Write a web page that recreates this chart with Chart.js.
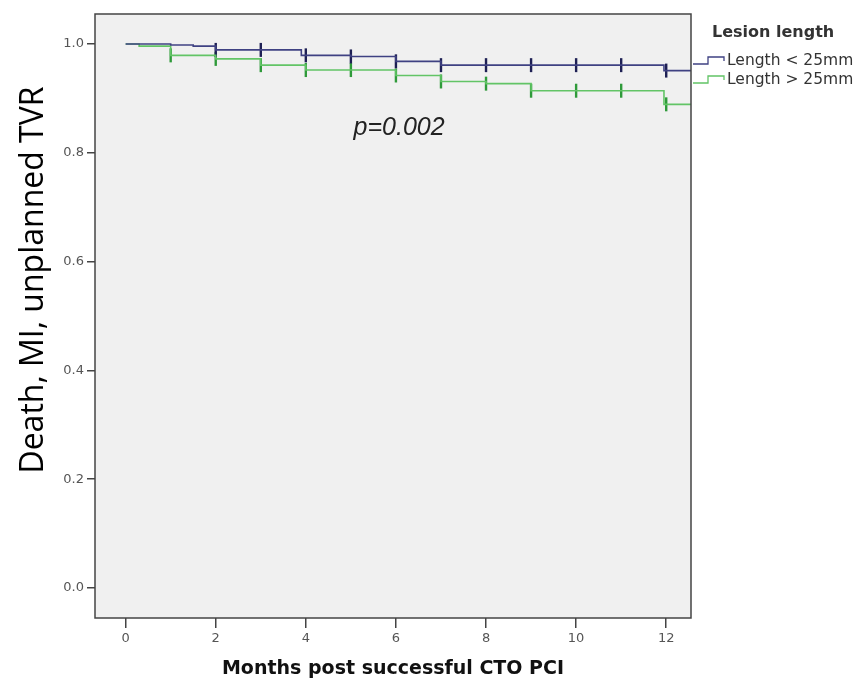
<!DOCTYPE html>
<html>
<head>
<meta charset="utf-8">
<script src="https://cdn.jsdelivr.net/npm/chart.js@4/dist/chart.umd.min.js"></script>
<style>
  html, body { margin: 0; padding: 0; background: #fff; }
  #wrap { width: 853px; height: 682px; }
</style>
</head>
<body>
<div id="wrap"><canvas id="kmChart" width="853" height="682"></canvas></div>
<script>
// tick labels
const xTicks = [0, 2, 4, 6, 8, 10, 12];
const yTicks = [0.0, 0.2, 0.4, 0.6, 0.8, 1.0];

// Length < 25mm : step times (months) and survival after each step
const shortTimes = [0, 1, 1.5, 2, 3.9, 5, 6, 7, 11.95, 12.6];
const shortSurv  = [1.0, 0.998, 0.996, 0.989, 0.979, 0.977, 0.968, 0.961, 0.951, 0.951];
const shortCensor = [2, 3, 4, 5, 6, 7, 8, 9, 10, 11, 12];

// Length > 25mm
const longTimes = [0, 0.3, 1, 2, 3, 4, 6, 7, 8, 9, 11.95, 12.6];
const longSurv  = [1.0, 0.996, 0.979, 0.9725, 0.961, 0.952, 0.942, 0.931, 0.927, 0.914, 0.889, 0.889];
const longCensor = [1, 2, 3, 4, 5, 6, 7, 8, 9, 10, 11, 12];

const legendTitle = 'Lesion length';
const groupNames = ['Length < 25mm', 'Length > 25mm'];
const pValue = 'p=0.002';

const blueLine = '#3f4182';
const blueMark = '#1e2054';
const greenLine = '#62c466';
const greenMark = '#2f9a3a';

function stepPoints(times, surv) {
    return times.map((t, i) => ({ x: t, y: surv[i] }));
}

// value of the step curve at time t
function survAt(times, surv, t) {
    let v = surv[0];
    for (let i = 0; i < times.length; i++) {
        if (times[i] <= t) v = surv[i];
    }
    return v;
}

function censorPoints(times, surv, marks) {
    return marks.map(t => ({ x: t, y: survAt(times, surv, t) }));
}

const frame = {
    id: 'frame',
    beforeDatasetsDraw(chart) {
        const { ctx, chartArea: a } = chart;
        ctx.save();
        ctx.fillStyle = '#f0f0f0';
        ctx.fillRect(a.left, a.top, a.right - a.left, a.bottom - a.top);
        ctx.restore();
    },
    afterDraw(chart) {
        const { ctx, chartArea: a, scales } = chart;
        ctx.save();
        ctx.strokeStyle = '#444';
        ctx.lineWidth = 1.5;
        ctx.strokeRect(a.left, a.top, a.right - a.left, a.bottom - a.top);

        // y title
        ctx.fillStyle = '#000';
        ctx.font = '32px "Open Sans"';
        ctx.textAlign = 'center';
        ctx.textBaseline = 'middle';
        ctx.translate(34, 280);
        ctx.rotate(-Math.PI / 2);
        ctx.fillText('Death, MI, unplanned TVR', 0, 0);
        ctx.setTransform(1, 0, 0, 1, 0, 0);

        // p value
        ctx.font = 'italic 25px "Liberation Sans"';
        ctx.fillStyle = '#222';
        ctx.textAlign = 'center';
        ctx.fillText(pValue, scales.x.getPixelForValue(6.07), scales.y.getPixelForValue(0.846));

        // legend
        const lx = a.right + 2;
        ctx.textAlign = 'left';
        ctx.fillStyle = '#333';
        ctx.font = 'bold 16px "DejaVu Sans"';
        ctx.fillText(legendTitle, 712, 33);
        ctx.font = '15.5px "DejaVu Sans"';
        const cols = [blueLine, greenLine];
        groupNames.forEach((name, i) => {
            const y = 61 + i * 19;
            ctx.strokeStyle = cols[i];
            ctx.lineWidth = 1.3;
            ctx.beginPath();
            ctx.moveTo(lx, y + 3);
            ctx.lineTo(lx + 15, y + 3);
            ctx.lineTo(lx + 15, y - 4);
            ctx.lineTo(lx + 31, y - 4);
            ctx.lineTo(lx + 31, y);
            ctx.stroke();
            ctx.fillStyle = '#333';
            ctx.fillText(name, 727, y);
        });
        ctx.restore();
    }
};

const ctx = document.getElementById('kmChart');
new Chart(ctx, {
    type: 'line',
    data: {
        datasets: [{
            label: groupNames[0],
            data: stepPoints(shortTimes, shortSurv),
            stepped: 'before',
            borderColor: blueLine,
            borderWidth: 1.6,
            pointRadius: 0,
            fill: false
        }, {
            label: groupNames[1],
            data: stepPoints(longTimes, longSurv),
            stepped: 'before',
            borderColor: greenLine,
            borderWidth: 1.6,
            pointRadius: 0,
            fill: false
        }, {
            label: 'censor short',
            data: censorPoints(shortTimes, shortSurv, shortCensor),
            showLine: false,
            pointStyle: 'line',
            rotation: 90,
            pointRadius: 7,
            borderColor: blueMark,
            borderWidth: 2.4
        }, {
            label: 'censor long',
            data: censorPoints(longTimes, longSurv, longCensor),
            showLine: false,
            pointStyle: 'line',
            rotation: 90,
            pointRadius: 7,
            borderColor: greenMark,
            borderWidth: 2.4
        }]
    },
    options: {
        responsive: false,
        animation: false,
        events: [],
        layout: { padding: { left: 0, right: 162, top: 14, bottom: 0 } },
        plugins: {
            legend: { display: false },
            tooltip: { enabled: false }
        },
        scales: {
            x: {
                type: 'linear',
                min: -0.68,
                max: 12.55,
                afterBuildTicks: (scale) => { scale.ticks = xTicks.map(v => ({ value: v })); },
                afterFit: (scale) => { scale.height = 64; },
                border: { display: false },
                grid: { drawOnChartArea: false, drawTicks: true, tickLength: 10, color: '#444', lineWidth: 1.5 },
                ticks: {
                    color: '#555',
                    font: { family: 'DejaVu Sans', size: 13 },
                    padding: 3,
                    maxRotation: 0
                },
                title: {
                    display: true,
                    text: 'Months post successful CTO PCI',
                    color: '#111',
                    font: { family: 'DejaVu Sans', size: 19, weight: 'bold' },
                    padding: { top: 0, bottom: 2 }
                }
            },
            y: {
                min: -0.055,
                max: 1.055,
                afterBuildTicks: (scale) => { scale.ticks = yTicks.map(v => ({ value: v })); },
                afterFit: (scale) => { scale.width = 95; },
                border: { display: false },
                grid: { drawOnChartArea: false, drawTicks: true, tickLength: 8, color: '#444', lineWidth: 1.5 },
                ticks: {
                    color: '#555',
                    font: { family: 'DejaVu Sans', size: 13 },
                    padding: 3,
                    callback: (v) => Number(v).toFixed(1)
                }
            }
        }
    },
    plugins: [frame]
});
</script>
</body>
</html>
